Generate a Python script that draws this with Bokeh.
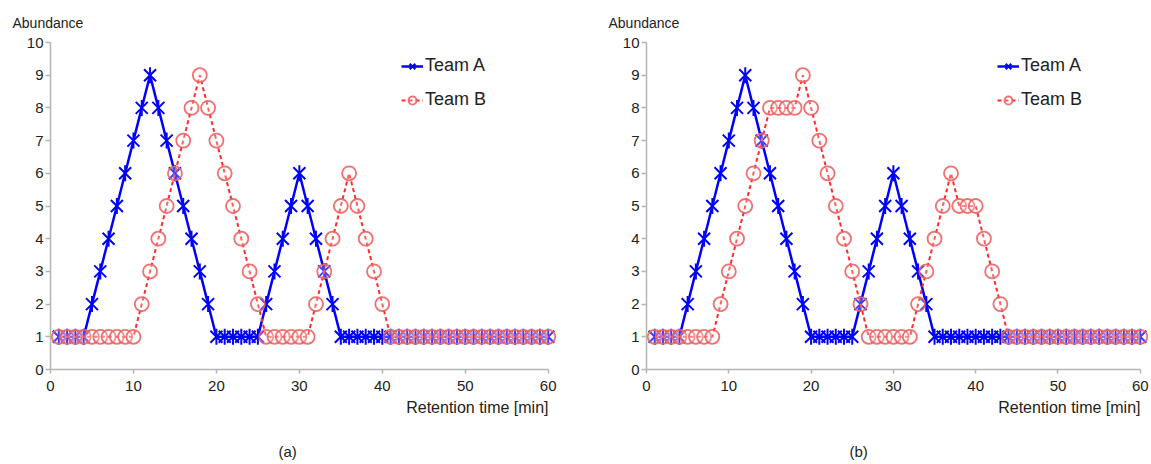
import math
from bokeh.plotting import figure
from bokeh.layouts import row
from bokeh.models import Range1d, FixedTicker, Legend, LegendItem, Title
from bokeh.embed import file_html
from bokeh.resources import INLINE

# ---- data ----
time_min = list(range(1, 61))
team_a = [1, 1, 1, 1,
          2, 3, 4, 5, 6, 7, 8, 9, 8, 7, 6, 5, 4, 3, 2,
          1, 1, 1, 1, 1, 1,
          2, 3, 4, 5, 6, 5, 4, 3, 2] + [1] * 26
team_b_a = [1] * 10 + [2, 3, 4, 5, 6, 7, 8, 9, 8, 7, 6, 5, 4, 3, 2] + [1] * 6 + \
           [2, 3, 4, 5, 6, 5, 4, 3, 2] + [1] * 20
team_b_b = [1] * 8 + [2, 3, 4, 5, 6, 7] + [8, 8, 8, 8] + [9] + \
           [8, 7, 6, 5, 4, 3, 2] + [1] * 6 + [2, 3, 4, 5, 6] + [5, 5, 5] + \
           [4, 3, 2] + [1] * 17
x_ticks = [0, 10, 20, 30, 40, 50, 60]
y_ticks = list(range(0, 11))
series_names = ["Team A", "Team B"]
y_title = "Abundance"
x_title = "Retention time [min]"
panel_tags = ["(a)", "(b)"]

FONT = "Liberation Sans"
BLUE = "#0000ff"
RED = "#ff2a2a"
RED_MK = "#f06060"


def make_panel(tb, tag, frame_w, left_b, right_b, tag_off):
    p = figure(output_backend="svg", toolbar_location=None,
               frame_width=frame_w, frame_height=327,
               min_border_left=left_b, min_border_right=right_b,
               min_border_top=42, min_border_bottom=10,
               x_range=Range1d(0, 61), y_range=Range1d(0, 10))
    p.outline_line_color = None
    p.xgrid.visible = False
    p.ygrid.visible = False
    p.background_fill_color = "white"
    p.border_fill_color = "white"

    p.title.text = y_title
    p.title.align = "left"
    p.title.offset = -38
    p.title.text_font = FONT
    p.title.text_font_size = "14px"
    p.title.text_font_style = "normal"
    p.title.text_color = "#222222"
    p.title.standoff = 23

    for ax in (p.xaxis[0], p.yaxis[0]):
        ax.axis_line_color = "#b5b5b5"
        ax.axis_line_width = 1.5
        ax.major_tick_line_color = "#b5b5b5"
        ax.major_tick_line_width = 1.5
        ax.minor_tick_line_color = None
        ax.major_tick_in = 0
        ax.major_label_text_font = FONT
        ax.major_label_text_font_size = "15px"
        ax.major_label_text_color = "#222222"
    p.xaxis[0].ticker = FixedTicker(ticks=x_ticks)
    p.yaxis[0].ticker = FixedTicker(ticks=y_ticks)
    p.xaxis[0].bounds = (0, 60)
    p.xaxis[0].major_tick_out = 4
    p.yaxis[0].major_tick_out = 5
    p.xaxis[0].major_label_standoff = 7
    p.yaxis[0].major_label_standoff = 2

    la = p.line(time_min, team_a, line_color=BLUE, line_width=2.5)
    sa1 = p.scatter(time_min, team_a, marker="x", size=17, line_color=BLUE, line_width=2)
    sa2 = p.scatter(time_min, team_a, marker="dash", angle=math.pi / 2, size=16,
                    line_color=BLUE, line_width=2)
    lb = p.line(time_min, tb, line_color=RED, line_width=2, line_dash="4 3")
    sb = p.scatter(time_min, tb, marker="circle", size=14, line_color=RED_MK,
                   line_width=1.8, fill_color="white", fill_alpha=0.25, line_alpha=0.9)

    legend = Legend(items=[LegendItem(label=series_names[0], renderers=[la, sa1, sa2]),
                           LegendItem(label=series_names[1], renderers=[lb, sb])],
                    location=(351, 259), orientation="vertical")
    legend.label_text_font = FONT
    legend.label_text_font_size = "18px"
    legend.label_text_color = "#222222"
    legend.glyph_width = 22
    legend.glyph_height = 20
    legend.label_height = 20
    legend.label_standoff = 2
    legend.spacing = 13
    legend.padding = 0
    legend.margin = 0
    legend.border_line_color = None
    legend.background_fill_alpha = 0
    p.add_layout(legend)

    t_x = Title(text=x_title, align="right", offset=8, text_font=FONT,
                text_font_size="16px", text_font_style="normal", text_color="#222222",
                standoff=6)
    p.add_layout(t_x, "below")
    t_tag = Title(text=tag, align="left", offset=tag_off, text_font=FONT,
                  text_font_size="15px", text_font_style="normal", text_color="#222222",
                  standoff=45)
    p.add_layout(t_tag, "below")
    return p


p1 = make_panel(team_b_a, panel_tags[0], 506, 50, 34, 228)
p2 = make_panel(team_b_b, panel_tags[1], 502, 56, 3, 203)
layout = row(p1, p2, spacing=0)

open("out.html", "w").write(file_html(layout, INLINE))
